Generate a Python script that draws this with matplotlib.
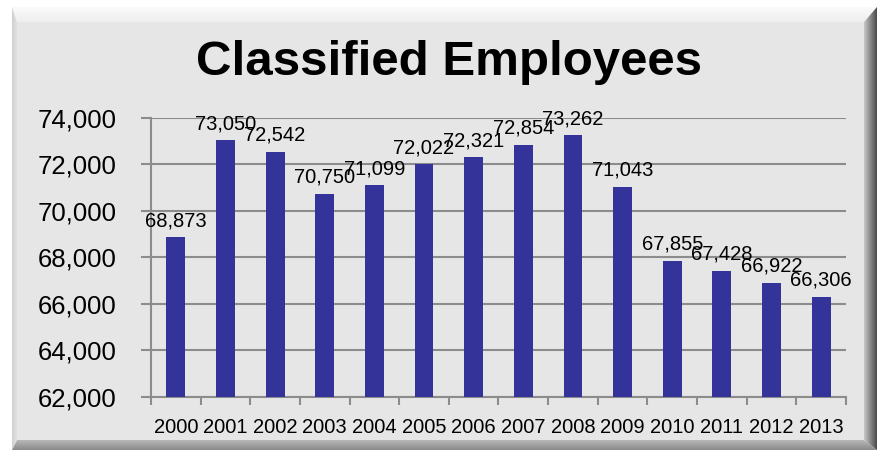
import numpy as np
import matplotlib.pyplot as plt
from matplotlib.patches import Polygon
from matplotlib.ticker import FuncFormatter

# Classified employee headcount by year
years = ['2000', '2001', '2002', '2003', '2004', '2005', '2006',
         '2007', '2008', '2009', '2010', '2011', '2012', '2013']
employees = [68873, 73050, 72542, 70750, 71099, 72022, 72321,
             72854, 73262, 71043, 67855, 67428, 66922, 66306]

W, H = 877, 450
plt.rcParams['font.family'] = ['Liberation Sans', 'DejaVu Sans']

fig = plt.figure(figsize=(W / 100, H / 100), dpi=100)
fig.patch.set_facecolor('white')

# Bevelled panel behind the chart, drawn in pixel coordinates
bg = fig.add_axes([0, 0, 1, 1], zorder=-1)
bg.set_xlim(0, W)
bg.set_ylim(H, 0)
bg.axis('off')

L, T, R, B = 12, 7, 877, 450       # outer edge
l, t, r, b = 17, 22, 864, 440      # inner face


def gradient_band(pts, c0, c1, horizontal):
    poly = Polygon(pts, closed=True, facecolor='none', edgecolor='none')
    bg.add_patch(poly)
    c0 = np.array(plt.matplotlib.colors.to_rgb(c0))
    c1 = np.array(plt.matplotlib.colors.to_rgb(c1))
    s = np.linspace(0, 1, 64)[:, None]
    cols = c0 + (c1 - c0) * s
    img = cols[None, :, :] if horizontal else cols[:, None, :]
    xs = [p[0] for p in pts]
    ys = [p[1] for p in pts]
    im = bg.imshow(img, extent=(min(xs), max(xs), max(ys), min(ys)),
                   aspect='auto', interpolation='bilinear')
    im.set_clip_path(poly)


bg.add_patch(Polygon([(l, t), (r, t), (r, b), (l, b)], facecolor='#e6e6e6', edgecolor='none'))
gradient_band([(L, T), (R, T), (r, t), (l, t)], '#fbfbfb', '#eeeeee', False)
gradient_band([(L, T), (l, t), (l, b), (L, B)], '#d0d0d0', '#e2e2e2', True)
gradient_band([(L, B), (l, b), (r, b), (R, B)], '#b8b8b8', '#8a8a8a', False)
gradient_band([(R, T), (R, B), (r, b), (r, t)], '#c8c8c8', '#4a4a4a', True)

fig.text(449 / W, 1 - 75 / H, 'Classified Employees', ha='center', va='baseline',
         fontsize=35.5, fontweight='bold', color='black')

ax = fig.add_axes([151 / W, 1 - 397 / H, (846 - 151) / W, (397 - 118) / H])
ax.set_facecolor('none')

x = np.arange(len(years))
bars = ax.bar(x, employees, width=0.38, color='#333399', zorder=3)

for xi, v in zip(x, employees):
    ax.annotate(f'{v:,}', (xi, v), xytext=(0, 5), textcoords='offset points',
                ha='center', va='bottom', fontsize=14.5, color='black', zorder=4)

ax.set_xlim(-0.5, len(years) - 0.5)
ax.set_ylim(62000, 74000)
ax.set_yticks(np.arange(62000, 74001, 2000))
ax.yaxis.set_major_formatter(FuncFormatter(lambda v, p: f'{int(v):,}'))
ax.set_xticks(x)
ax.set_xticklabels(years)
ax.set_xticks(np.arange(-0.5, len(years)), minor=True)

ax.grid(axis='y', color='#8c8c8c', linewidth=1.5, zorder=1)
for s in ['top', 'right']:
    ax.spines[s].set_visible(False)
for s in ['left', 'bottom']:
    ax.spines[s].set_color('#8c8c8c')
    ax.spines[s].set_linewidth(1.5)

ax.tick_params(axis='y', length=7, width=1.5, color='#8c8c8c', pad=18, labelsize=18.5)
ax.tick_params(axis='x', which='major', length=0, pad=15, labelsize=14.5)
ax.tick_params(axis='x', which='minor', length=6, width=1.5, color='#8c8c8c')

fig.savefig('out.png', dpi=100)
